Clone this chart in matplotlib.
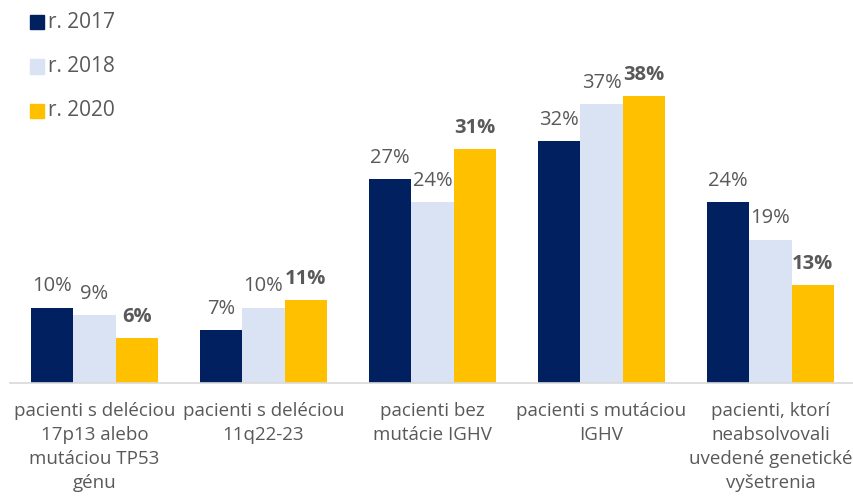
import matplotlib
matplotlib.use("Agg")
import matplotlib.pyplot as plt
from matplotlib.patches import Rectangle
import numpy as np

categories = [
    "pacienti s deléciou\n17p13 alebo\nmutáciou TP53\ngénu",
    "pacienti s deléciou\n11q22-23",
    "pacienti bez\nmutácie IGHV",
    "pacienti s mutáciou\nIGHV",
    "pacienti, ktorí\nneabsolvovali\nuvedené genetické\nvyšetrenia",
]
series_names = ["r. 2017", "r. 2018", "r. 2020"]
v2017 = [10, 7, 27, 32, 24]
v2018 = [9, 10, 24, 37, 19]
v2020 = [6, 11, 31, 38, 13]
colors = ["#002060", "#DAE3F3", "#FFC000"]

plt.rcParams['font.family'] = ['Open Sans', 'DejaVu Sans']
W, H = 854, 500
fig = plt.figure(figsize=(W / 100, H / 100), dpi=100)
ax = fig.add_axes([10 / W, 117 / H, 845 / W, 383 / H])
ax.set_xlim(-0.5, 4.5)
ax.set_ylim(0, 383 / 7.55)

x = np.arange(len(categories))
bw = 0.25
txt = "#595959"
allv = [v2017, v2018, v2020]
for i, (vals, c, name) in enumerate(zip(allv, colors, series_names)):
    pos = x + (i - 1) * bw
    ax.bar(pos, vals, width=bw, color=c, label=name, zorder=2)
    for p, v in zip(pos, vals):
        ax.annotate(f"{v}%", (p, v), xytext=(0, 8), textcoords="offset points",
                    ha="center", va="bottom", fontsize=14.5, color=txt,
                    fontweight="bold" if i == 2 else "normal")

for s in ["top", "right", "left"]:
    ax.spines[s].set_visible(False)
ax.spines["bottom"].set_color("#D9D9D9")
ax.spines["bottom"].set_linewidth(1.2)
ax.set_yticks([])
ax.set_xticks(x)
ax.set_xticklabels(categories, fontsize=13.5, color=txt, linespacing=1.42)
ax.tick_params(axis="x", length=0, pad=14)

# legend
for j, (name, c) in enumerate(zip(series_names, colors)):
    yc = 22 + j * 44.5
    fig.patches.append(Rectangle((30 / W, 1 - (yc + 7) / H), 14 / W, 14 / H,
                                 transform=fig.transFigure, color=c))
    fig.text(48 / W, 1 - yc / H, name, fontsize=15, color=txt, va="center", ha="left")

fig.savefig("out.png", dpi=100)
